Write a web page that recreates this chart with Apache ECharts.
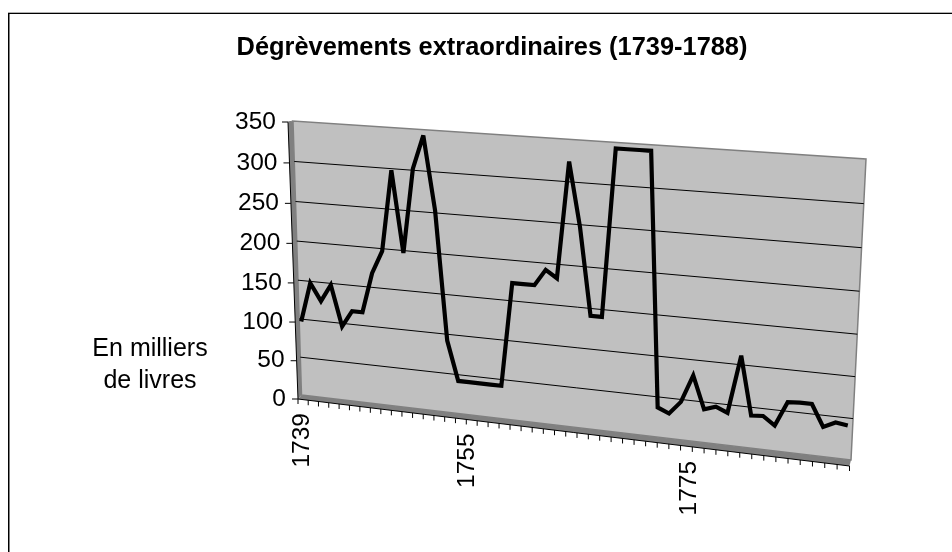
<!DOCTYPE html>
<html><head><meta charset="utf-8">
<style>html,body{margin:0;padding:0;background:#fff}#c{width:952px;height:552px}</style>
<script src="https://cdn.jsdelivr.net/npm/echarts@6/dist/echarts.min.js"></script></head><body><div id="c"></div>
<script>
var titleText = 'Dégrèvements extraordinaires (1739-1788)';
var unitLines = ['En milliers', 'de livres'];
var years = [1739,1740,1741,1742,1743,1744,1745,1746,1747,1748,1749,1750,1751,1752,1753,1754,1755,1756,1757,1758,1759,1760,1761,1762,1763,1764,1765,1766,1767,1768,1769,1770,1771,1772,1773,1774,1775,1776,1777,1778,1779,1780,1781,1782,1783,1784,1785,1786,1787,1788];
var values = [97,148,126,148,96,117,117,168,197,298,197,302,343,253,92,42,42,42,42,42,172,172,172,192,183,324,247,141,141,343,343,343,343,37,31,47,81,41,46,40,111,40,41,31,61,62,62,36,43,41];
var yTicks = [0,50,100,150,200,250,300,350];
var labelledYears = [1739,1755,1775];

var FONT = '"Liberation Sans", Arial, sans-serif';
var W = 952, H = 552;
var XMIN = -0.2, XMAX = 49.4, YMAX = 350;

// perspective of the chart's back wall (corners: bottom-left, bottom-right, top-right, top-left)
var wallCorners = [[301.5,395],[851,460],[866,159],[293,121]];
function squareToQuad(q){
  var x0=q[0][0],y0=q[0][1],x1=q[1][0],y1=q[1][1],x2=q[2][0],y2=q[2][1],x3=q[3][0],y3=q[3][1];
  var dx1=x1-x2,dx2=x3-x2,dx3=x0-x1+x2-x3,dy1=y1-y2,dy2=y3-y2,dy3=y0-y1+y2-y3,den=dx1*dy2-dx2*dy1;
  var g=(dx3*dy2-dx2*dy3)/den,h=(dx1*dy3-dx3*dy1)/den;
  return [x1-x0+g*x1,x3-x0+h*x3,x0,y1-y0+g*y1,y3-y0+h*y3,y0,g,h];
}
var M = squareToQuad(wallCorners);
function wall(api,x,v){
  var p=api.coord([x,v]), u=p[0]/W, w=1-p[1]/H, d=M[6]*u+M[7]*w+1;
  return [(M[0]*u+M[1]*w+M[2])/d,(M[3]*u+M[4]*w+M[5])/d];
}
function front(api,x){ // front edge of the floor
  var p=wall(api,x,0), f=(x-XMIN)/(XMAX-XMIN);
  return [p[0]-3.5+2*f,p[1]+4+2*f];
}
function side(api,v){ // outer edge of the side wall
  var p=wall(api,XMIN,v), f=v/YMAX;
  return [p[0]-3.5-1.5*f,p[1]+4-3*f];
}
function shell(render,data){return {type:'custom',silent:true,animation:false,coordinateSystem:'cartesian2d',clip:false,data:data,renderItem:render};}
function poly(points,fill,stroke,lw){return {type:'polygon',shape:{points:points},style:{fill:fill,stroke:stroke||null,lineWidth:lw||0}};}
function seg(a,b,color,lw){return {type:'line',shape:{x1:a[0],y1:a[1],x2:b[0],y2:b[1]},style:{stroke:color,lineWidth:lw}};}

var option = {
  backgroundColor:'#ffffff',
  title:{text:titleText,left:487,top:30,textAlign:'center',textStyle:{fontFamily:FONT,fontSize:25.4,fontWeight:'bold',color:'#000'}},
  grid:{left:0,top:0,width:W,height:H,show:false},
  xAxis:{type:'value',min:XMIN,max:XMAX,show:false},
  yAxis:{type:'value',min:0,max:YMAX,interval:50,show:false},
  graphic:[
    {type:'rect',shape:{x:8,y:12,width:944,height:1},style:{fill:'#b0b0b0'},silent:true},
    {type:'rect',shape:{x:8,y:13,width:944,height:1},style:{fill:'#000'},silent:true},
    {type:'rect',shape:{x:8,y:13,width:1,height:539},style:{fill:'#000'},silent:true},
    {type:'rect',shape:{x:9,y:14,width:1,height:538},style:{fill:'#808080'},silent:true},
    {type:'text',x:150,y:349,style:{text:unitLines[0],font:'25px '+FONT,fill:'#000',align:'center',verticalAlign:'middle'},silent:true},
    {type:'text',x:150,y:381,style:{text:unitLines[1],font:'25px '+FONT,fill:'#000',align:'center',verticalAlign:'middle'},silent:true}
  ],
  series:[
    // walls and floor
    shell(function(p,api){
      var bl=wall(api,XMIN,0),br=wall(api,XMAX,0),tr=wall(api,XMAX,YMAX),tl=wall(api,XMIN,YMAX);
      return {type:'group',children:[
        poly([side(api,YMAX),tl,bl,side(api,0)],'#808080'),
        poly([bl,br,front(api,XMAX),front(api,XMIN)],'#808080'),
        poly([bl,br,tr,tl],'#c0c0c0','#808080',1.5),
        seg(side(api,0),side(api,YMAX),'#000',1),
        seg(side(api,YMAX),tl,'#808080',1),
        seg(front(api,XMIN),front(api,XMAX),'#000',1)
      ]};
    },[[0,0]]),
    // value ticks: gridline, tick mark, label
    shell(function(p,api){
      var v=api.value(1),s=side(api,v),ch=[seg([s[0]-6,s[1]],s,'#000',1),
        {type:'text',x:s[0]-12,y:s[1],style:{text:String(v),font:'24.5px '+FONT,fill:'#000',align:'right',verticalAlign:'middle'}}];
      if(v>0&&v<YMAX) ch.unshift(seg(wall(api,XMIN,v),wall(api,XMAX,v),'#000',1));
      return {type:'group',children:ch};
    },yTicks.map(function(v){return [0,v];})),
    // category ticks and labels: the axis runs the full length of the floor's front edge
    shell(function(p,api){
      var i=api.value(0),f=front(api,XMIN+(XMAX-XMIN)*i/(years.length-1)),ch=[seg(f,[f[0],f[1]+5],'#000',1)];
      if(labelledYears.indexOf(years[i])>=0) ch.push({type:'text',x:f[0]+4-0.2*i,y:f[1]+14,rotation:Math.PI/2,
        style:{text:String(years[i]),font:'24.5px '+FONT,fill:'#000',align:'right',verticalAlign:'middle'}});
      return {type:'group',children:ch};
    },years.map(function(y,i){return [i,0];})),
    // the series line
    shell(function(p,api){
      if(p.dataIndex!==0) return null;
      return {type:'polyline',shape:{points:values.map(function(v,i){return wall(api,i,v);})},
        style:{fill:null,stroke:'#000',lineWidth:4.2,lineJoin:'miter',miterLimit:4,lineCap:'butt'}};
    },values.map(function(v,i){return [i,v];}))
  ]
};
var chart=echarts.init(document.getElementById('c'),null,{renderer:'canvas'});
chart.setOption(option);
</script></body></html>
